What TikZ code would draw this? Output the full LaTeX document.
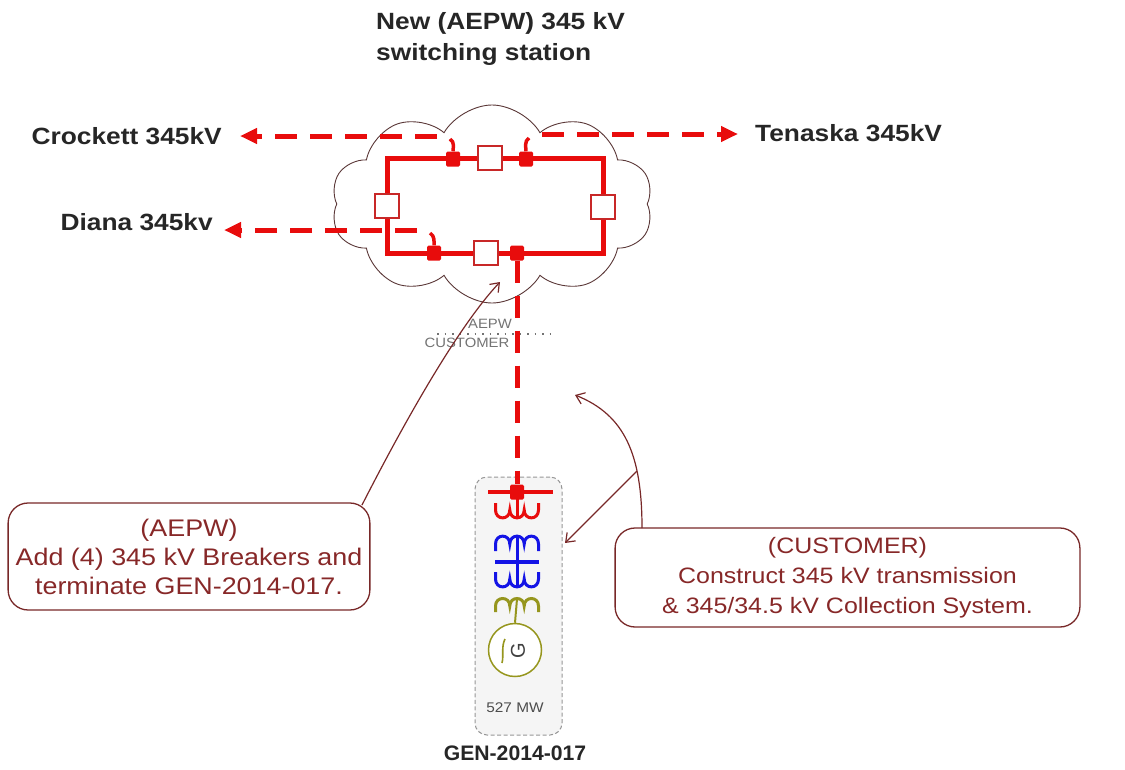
\documentclass[tikz,border=0pt]{standalone}
\usepackage{fontspec}
\setmainfont{Liberation Sans}
\usetikzlibrary{shapes.symbols,arrows.meta}
\definecolor{ringred}{RGB}{232,12,12}
\definecolor{brkc}{RGB}{200,40,40}
\definecolor{cloudc}{RGB}{90,55,55}
\definecolor{callc}{RGB}{135,40,40}
\definecolor{callb}{RGB}{120,40,40}
\definecolor{genblue}{RGB}{20,20,230}
\definecolor{genolive}{RGB}{150,150,30}
\definecolor{boxgray}{RGB}{150,150,150}
\definecolor{boxfill}{RGB}{245,245,245}
\definecolor{txtgray}{RGB}{115,115,115}
\tikzset{
  ringline/.style={draw=ringred, line width=5pt},
  dline/.style={draw=ringred, line width=5pt, dash pattern=on 22pt off 13pt},
  redtip/.style={-{Triangle[length=17pt,width=15pt]}},
  brk/.style={draw=brkc, fill=white, line width=1.2pt, minimum size=24pt, inner sep=0pt},
  jn/.style={fill=ringred, minimum width=14pt, minimum height=15pt, inner sep=0pt, rounded corners=1.5pt},
  hook/.style={draw=ringred, line width=3.5pt},
  lbl/.style={font=\fontsize{23.5}{28}\selectfont\bfseries, text=black!85, inner sep=0pt, xscale=1.12},
  callout/.style={draw=callb, line width=1.3pt, rounded corners=20pt, text=callc, align=center,
     inner sep=0pt, xscale=1.12},
  callarrow/.style={draw=callb, line width=1.2pt, -{Straight Barb[length=8pt,width=12pt]}},
  wind/.style={line width=3pt},
}
\begin{document}
\begin{tikzpicture}[x=1pt,y=-1pt]
\useasboundingbox (0,0) rectangle (1125,769);

% title
\node[lbl, anchor=base west, align=left] (title1) at (376,29) {New (AEPW) 345 kV};
\node[lbl, anchor=base west, align=left] (title2) at (376,60) {switching station};

% cloud
\node[cloud, draw=cloudc, line width=0.9pt, cloud puffs=10, cloud puff arc=120, aspect=1.6,
      minimum width=322pt, minimum height=198pt, inner sep=0pt] (cloud) at (492,204) {};

% ring bus
\draw[ringline] (387,158) rectangle (603,253);

% junctions
\node[jn] (j1) at (453,159) {};
\node[jn] (j2) at (526,159) {};
\node[jn] (j3) at (434,253) {};
\node[jn] (j4) at (517,253) {};

% hooks
\coordinate (h1) at (450,139);
\coordinate (h2) at (529,138);
\coordinate (h3) at (430,233);
\draw[hook] (h1) .. controls (455,142) and (453,148) .. (j1.north);
\draw[hook] (h2) .. controls (524,141) and (526,148) .. (j2.north);
\draw[hook] (h3) .. controls (435,236) and (434,242) .. (j3.north);

% breakers
\node[brk] (b1) at (490,158) {};
\node[brk] (b2) at (387,206) {};
\node[brk] (b3) at (603,207) {};
\node[brk] (b4) at (486,253) {};

% external lines
\node[lbl, anchor=east] (crockett) at (222,136) {Crockett 345kV};
\node[lbl, anchor=west] (tenaska) at (755,133) {Tenaska 345kV};
\node[lbl, anchor=east] (diana) at (213,222) {Diana 345kv};
\coordinate (crE) at (437,136);
\coordinate (teS) at (542,134);
\coordinate (diE) at (417,230);
\coordinate (crT) at (240,136);
\coordinate (teT) at (738,134);
\coordinate (diT) at (224,230);
\draw[dline, redtip] (crE) -- (crT);
\draw[dline, redtip] (teS) -- (teT);
\draw[dline, redtip] (diE) -- (diT);

% boundary
\draw[txtgray, line width=1.2pt, dash pattern=on 1.5pt off 6pt] (437,334) -- (555,334);
\node[font=\fontsize{13.5}{16}\selectfont, text=txtgray, inner sep=0pt, xscale=1.1] (aepw) at (490,324) {AEPW};
\node[font=\fontsize{13.5}{16}\selectfont, text=txtgray, inner sep=0pt, xscale=1.1] (cust) at (467,343) {CUSTOMER};

% generator box
\node[draw=boxgray, fill=boxfill, line width=1pt, dash pattern=on 4pt off 2.5pt, rounded corners=12pt,
      minimum width=87pt, minimum height=258pt, inner sep=0pt] (genbox) at (518.5,606) {};

% tie line
\node[jn] (gj) at (517,492) {};
\draw[dline] (j4) -- (gj);
\draw[ringline, line width=4pt] (488,492) -- (553,492);
\node[jn, minimum width=12pt, minimum height=12pt] (gj2) at (517,492) {};

% red winding (bumps down)
\draw[ringred, wind] (517,492) -- (517,519);
\draw[ringred, wind] (495.5,503) -- (495.5,510)
   .. controls (495.5,520.5) and (509.8,520.5) .. (509.8,510)
   .. controls (509.8,520.5) and (524.2,520.5) .. (524.2,510)
   .. controls (524.2,520.5) and (538.5,520.5) .. (538.5,510) -- (538.5,503);
% blue upper winding (bumps up)
\draw[genblue, wind] (495.5,551) -- (495.5,544)
   .. controls (495.5,533.5) and (509.8,533.5) .. (509.8,544)
   .. controls (509.8,533.5) and (524.2,533.5) .. (524.2,544)
   .. controls (524.2,533.5) and (538.5,533.5) .. (538.5,544) -- (538.5,551);
\draw[genblue, wind] (517,537) -- (517,588);
\draw[genblue, line width=4pt] (495,562) -- (539,562);
% blue lower winding (bumps down)
\draw[genblue, wind] (495.5,572) -- (495.5,579)
   .. controls (495.5,589.5) and (509.8,589.5) .. (509.8,579)
   .. controls (509.8,589.5) and (524.2,589.5) .. (524.2,579)
   .. controls (524.2,589.5) and (538.5,589.5) .. (538.5,579) -- (538.5,572);
% olive winding (bumps up)
\draw[genolive, wind] (495.5,612) -- (495.5,606)
   .. controls (495.5,596) and (509.8,596) .. (509.8,606)
   .. controls (509.8,596) and (524.2,596) .. (524.2,606)
   .. controls (524.2,596) and (538.5,596) .. (538.5,606) -- (538.5,612);
% generator
\node[circle, draw=genolive, fill=white, line width=1.5pt, minimum size=53pt, inner sep=0pt] (gen) at (515,650) {};
\draw[genolive, line width=2pt] (517,599) -- (gen.north);
\node[rotate=90, font=\fontsize{20}{20}\selectfont, text=black!75, inner sep=0pt] (gG) at (518,651) {G};
\draw[genolive, line width=1.6pt] (505,639) .. controls (501,647) and (504,655) .. (502,663);
\node[font=\fontsize{14}{16}\selectfont, text=black!70, inner sep=0pt, xscale=1.1] (mw) at (515,708) {527 MW};
\node[lbl, font=\fontsize{21}{24}\selectfont\bfseries, xscale=0.9, anchor=base] (genname) at (515,760) {GEN-2014-017};

% callouts
\node[callout, font=\fontsize{24}{29}\selectfont, minimum width=323pt, minimum height=107pt] (cL) at (189,556.5)
   {(AEPW)\\Add (4) 345 kV Breakers and\\terminate GEN-2014-017.};
\node[callout, font=\fontsize{22.3}{30}\selectfont, minimum width=415pt, minimum height=99pt] (cR) at (847.5,577.5)
   {(CUSTOMER)\\Construct 345 kV transmission\\\& 345/34.5 kV Collection System.};

\coordinate (aLs) at (362,505);
\coordinate (aLt) at (500,282);
\draw[callarrow] (aLs) .. controls (385,460) and (450,335) .. (aLt);
\coordinate (aRs) at (642,528);
\coordinate (aRt) at (575,395);
\coordinate (aRb) at (637,471);
\coordinate (aRt2) at (565,543);
\draw[callarrow] (aRs) .. controls (642,455) and (625,415) .. (aRt);
\draw[callarrow] (aRb) -- (aRt2);
\end{tikzpicture}
\end{document}
